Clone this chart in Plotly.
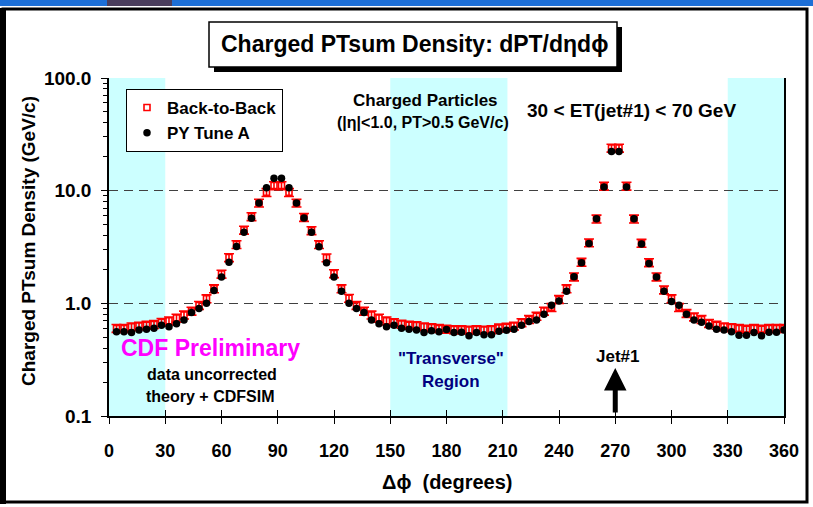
import plotly.graph_objects as go

# ---------------- data ----------------
dphi = [4, 8, 12, 16, 20, 24, 28, 32, 36, 40, 44, 48, 52, 56, 60, 64, 68, 72, 76, 80,
        84, 88, 92, 96, 100, 104, 108, 112, 116, 120, 124, 128, 132, 136, 140, 144, 148, 152, 156, 160,
        164, 168, 172, 176, 180, 184, 188, 192, 196, 200, 204, 208, 212, 216, 220, 224, 228, 232, 236, 240,
        244, 248, 252, 256, 260, 264, 268, 272, 276, 280, 284, 288, 292, 296, 300, 304, 308, 312, 316, 320,
        324, 328, 332, 336, 340, 344, 348, 352, 356, 360]

back_to_back = [0.60, 0.60, 0.62, 0.63, 0.64, 0.65, 0.68, 0.70, 0.74, 0.79,
                0.855, 0.96, 1.10, 1.35, 1.82, 2.55, 3.33, 4.47, 5.89, 7.78,
                9.66, 11.1, 11.1, 9.66, 7.78, 5.80, 4.43, 3.33, 2.54, 1.84,
                1.35, 1.11, 0.96, 0.855, 0.79, 0.74, 0.70, 0.675, 0.655, 0.64,
                0.635, 0.62, 0.61, 0.60, 0.59, 0.585, 0.585, 0.58, 0.585, 0.58,
                0.585, 0.605, 0.615, 0.63, 0.675, 0.72, 0.77, 0.855, 0.92, 1.085,
                1.35, 1.72, 2.32, 3.45, 5.62, 11.0, 23.9, 23.9, 11.0, 5.62,
                3.42, 2.30, 1.72, 1.32, 1.10, 0.92, 0.815, 0.76, 0.72, 0.665,
                0.64, 0.62, 0.61, 0.60, 0.59, 0.60, 0.59, 0.60, 0.60, 0.60]

py_tune_a = [0.56, 0.56, 0.55, 0.58, 0.59, 0.60, 0.64, 0.62, 0.66, 0.71,
             0.83, 0.90, 1.00, 1.30, 1.71, 2.31, 3.19, 4.27, 5.69, 7.78,
             10.6, 12.9, 12.9, 10.6, 7.78, 5.73, 4.27, 3.18, 2.29, 1.71,
             1.28, 1.00, 0.90, 0.83, 0.71, 0.66, 0.62, 0.64, 0.60, 0.59,
             0.58, 0.55, 0.57, 0.56, 0.585, 0.55, 0.555, 0.515, 0.55, 0.525,
             0.525, 0.565, 0.577, 0.59, 0.64, 0.69, 0.71, 0.80, 0.96, 1.05,
             1.28, 1.72, 2.29, 3.40, 5.62, 10.8, 22.3, 22.3, 10.8, 5.62,
             3.37, 2.26, 1.71, 1.28, 1.04, 0.96, 0.80, 0.71, 0.68, 0.63,
             0.59, 0.58, 0.56, 0.52, 0.52, 0.55, 0.515, 0.555, 0.555, 0.58]

error_percent = 8

x_ticks = [0, 30, 60, 90, 120, 150, 180, 210, 240, 270, 300, 330, 360]
y_ticks = [0.1, 1, 10, 100]
y_tick_text = ["0.1", "1.0", "10.0", "100.0"]
highlight_regions = [(0, 30), (150, 212.5), (330, 360)]
jet_phi = 270

# ---------------- layout helpers ----------------
W, H = 813, 507
L, R, T, B = 109, 29, 78, 91
PW, PH = W - L - R, H - T - B
FONT = "Liberation Sans, Arial, Helvetica, sans-serif"


def PX(x):
    return (x - L) / PW


def PY(y):
    return (H - B - y) / PH


fig = go.Figure()

fig.add_trace(go.Scatter(
    x=dphi, y=back_to_back, mode="markers", name="Back-to-Back",
    marker=dict(symbol="square-open", size=6, color="#ff0000", line=dict(width=1.6, color="#ff0000")),
    error_y=dict(type="percent", value=error_percent, color="#ff0000", thickness=1.6, width=5),
))
fig.add_trace(go.Scatter(
    x=dphi, y=py_tune_a, mode="markers", name="PY Tune A",
    marker=dict(symbol="circle", size=7.5, color="#000000"),
))
# carrier for the inward tick axis
fig.add_trace(go.Scatter(x=[None], y=[None], xaxis="x2", showlegend=False, hoverinfo="skip"))

shapes = []
for a, b in highlight_regions:
    shapes.append(dict(type="rect", xref="x", yref="paper", x0=a, x1=b, y0=0, y1=1,
                       fillcolor="#ccffff", line=dict(width=0), layer="below"))

# slide frame
shapes.append(dict(type="rect", xref="paper", yref="paper", x0=PX(0), x1=PX(813), y0=PY(0), y1=PY(6),
                   fillcolor="#1d6fd6", line=dict(width=0), layer="above"))
shapes.append(dict(type="rect", xref="paper", yref="paper", x0=PX(107), x1=PX(172), y0=PY(0), y1=PY(6),
                   fillcolor="#4a3d5c", line=dict(width=0), layer="above"))
shapes.append(dict(type="rect", xref="paper", yref="paper", x0=PX(3), x1=PX(807), y0=PY(9), y1=PY(502),
                   line=dict(color="#000000", width=3), fillcolor="rgba(0,0,0,0)", layer="above"))
shapes.append(dict(type="rect", xref="paper", yref="paper", x0=PX(0), x1=PX(6), y0=PY(8), y1=PY(504),
                   fillcolor="#000000", line=dict(width=0), layer="above"))
# title box with shadow
shapes.append(dict(type="rect", xref="paper", yref="paper", x0=PX(214), x1=PX(622), y0=PY(27), y1=PY(72),
                   fillcolor="#000000", line=dict(width=0), layer="above"))
shapes.append(dict(type="rect", xref="paper", yref="paper", x0=PX(209), x1=PX(617), y0=PY(22), y1=PY(67),
                   fillcolor="#ffffff", line=dict(color="#000000", width=1.5), layer="above"))


def ann(text, x, y, size, color="#000000", **kw):
    d = dict(text=text, xref="paper", yref="paper", x=PX(x), y=PY(y), showarrow=False,
             xanchor="center", yanchor="middle",
             font=dict(family=FONT, size=size, color=color, weight="bold"))
    d.update(kw)
    return d


annotations = [
    ann("Charged PTsum Density: dPT/dηdϕ", 414, 44, 23),
    ann("Charged Particles", 425, 100, 17),
    ann("(|η|<1.0, PT>0.5 GeV/c)", 423, 122, 16),
    ann("30 < ET(jet#1) < 70 GeV", 631, 110, 19),
    ann("CDF Preliminary", 210, 348, 23, color="#ff00ff"),
    ann("data uncorrected", 212, 374, 16),
    ann("theory + CDFSIM", 210, 396, 16),
    ann("\"Transverse\"", 451, 358, 17, color="#000080"),
    ann("Region", 451, 381, 17, color="#000080"),
    ann("Jet#1", 617, 356, 17),
    ann("Δϕ  (degrees)", 447, 482, 20),
    ann("Charged PTsum Density (GeV/c)", 28, 241, 19, textangle=-90),
    dict(text="", x=jet_phi, xref="x", yref="paper", y=PY(368), showarrow=True,
         ax=0, ay=46, axref="pixel", ayref="pixel", arrowhead=2, arrowsize=0.9, arrowwidth=5,
         arrowcolor="#000000", standoff=0, startstandoff=0),
]

fig.update_layout(
    width=W, height=H,
    margin=dict(l=L, r=R, t=T, b=B),
    paper_bgcolor="#ffffff", plot_bgcolor="#ffffff",
    font=dict(family=FONT, size=16, color="#000000", weight="bold"),
    showlegend=True,
    legend=dict(x=PX(126), y=PY(89), xanchor="left", yanchor="top",
                bgcolor="#ffffff", bordercolor="#000000", borderwidth=1,
                font=dict(family=FONT, size=17, color="#000000", weight="bold"),
                itemwidth=30, tracegroupgap=2),
    xaxis=dict(range=[0, 360], tickvals=x_ticks, ticktext=[str(v) for v in x_ticks],
               showline=True, linecolor="#000000", linewidth=1.5,
               ticks="outside", ticklen=6, tickcolor="#000000", tickwidth=1,
               showgrid=False, zeroline=False, ticklabelstandoff=12,
               tickfont=dict(family=FONT, size=18, weight="bold")),
    xaxis2=dict(range=[0, 360], overlaying="x", anchor="y", side="bottom",
                tickvals=x_ticks, ticks="inside", ticklen=6, tickcolor="#000000",
                showticklabels=False, showline=False, showgrid=False, zeroline=False),
    yaxis=dict(type="log", range=[-1, 2], tickvals=y_ticks, ticktext=y_tick_text,
               showline=True, mirror=True, linecolor="#000000", linewidth=1.5,
               ticks="outside", ticklen=6, tickcolor="#000000",
               minor=dict(ticks="outside", ticklen=4, tickcolor="#000000", dtick="D1", showgrid=False),
               showgrid=True, gridcolor="#404040", gridwidth=1, griddash="9px,6px",
               zeroline=False, ticklabelstandoff=6,
               tickfont=dict(family=FONT, size=19, weight="bold")),
    shapes=shapes,
    annotations=annotations,
)

fig.write_html("out.html")
